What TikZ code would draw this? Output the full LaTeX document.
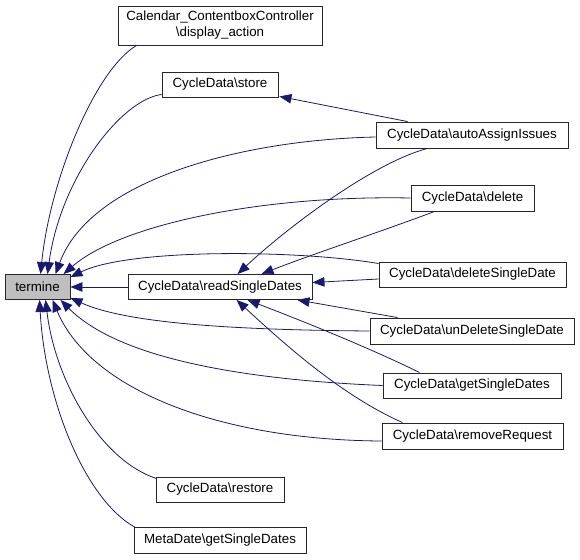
\documentclass[tikz,border=0pt]{standalone}
\usepackage{fontspec}
\setmainfont{Liberation Sans}
\usetikzlibrary{arrows.meta,calc}
\definecolor{edgeblue}{HTML}{191970}
\definecolor{nodegray}{HTML}{BFBFBF}
\begin{document}
\begin{tikzpicture}[x=1pt,y=-1pt,
  box/.style={draw=black!85, line width=0.9pt, fill=white, inner sep=0pt,
    font=\fontsize{13.33}{16}\selectfont, align=center},
  edge/.style={draw=edgeblue, line width=0.8pt, -{Triangle[length=12pt,width=9.5pt]}},
]
\useasboundingbox[fill=white] (0,0) rectangle (580,559);

% nodes
\node[box, fill=nodegray, minimum width=65pt, minimum height=25pt] (termine) at (37.5,287) {termine};
\node[box, minimum width=184pt, minimum height=25pt] (rsd) at (220,287) {CycleData\textbackslash readSingleDates};
\node[box, minimum width=204pt, minimum height=39pt] (disp) at (220,25.5) {Calendar\_ContentboxController\\\textbackslash display\_action};
\node[box, minimum width=116pt, minimum height=25pt] (store) at (220,84.5) {CycleData\textbackslash store};
\node[box, minimum width=192pt, minimum height=26pt] (auto) at (472,135) {CycleData\textbackslash autoAssignIssues};
\node[box, minimum width=123pt, minimum height=26pt] (delete) at (472.5,198) {CycleData\textbackslash delete};
\node[box, minimum width=187pt, minimum height=25pt] (dsd) at (472.5,274.5) {CycleData\textbackslash deleteSingleDate};
\node[box, minimum width=204pt, minimum height=26pt] (udsd) at (472,331) {CycleData\textbackslash unDeleteSingleDate};
\node[box, minimum width=178pt, minimum height=25pt] (gsd) at (472,385.5) {CycleData\textbackslash getSingleDates};
\node[box, minimum width=181pt, minimum height=26pt] (rr) at (472.5,436) {CycleData\textbackslash removeRequest};
\node[box, minimum width=128pt, minimum height=25pt] (restore) at (220,489.5) {CycleData\textbackslash restore};
\node[box, minimum width=172pt, minimum height=26pt] (meta) at (220,540) {MetaDate\textbackslash getSingleDates};

% edges into termine
\draw[edge] ($(disp.south west)+(19,0)$) .. controls (95,70) and (50,180) .. ($(termine.north west)+(36,0)$);
\draw[edge] ($(store.south west)+(0,-3)$) .. controls (120,100) and (60,180) .. ($(termine.north west)+(43,0)$);
\draw[edge] ($(auto.west)+(0,2)$) .. controls (240,140) and (90,180) .. ($(termine.north west)+(51,0)$);
\draw[edge] (delete.west) .. controls (260,195) and (120,225) .. ($(termine.north west)+(59,0)$);
\draw[edge] ($(dsd.north west)+(0,2)$) .. controls (300,250) and (130,248) .. ($(termine.north east)+(0,3)$);
\draw[edge] (rsd) -- (termine);
\draw[edge] (udsd.west) .. controls (250,330) and (130,325) .. ($(termine.south east)+(0,-2)$);
\draw[edge] (gsd.west) .. controls (250,380) and (120,360) .. ($(termine.south west)+(56,0)$);
\draw[edge] ($(rr.west)+(0,5)$) .. controls (220,440) and (90,390) .. ($(termine.south west)+(48,0)$);
\draw[edge] ($(restore.north west)+(1,2)$) .. controls (100,460) and (55,380) .. ($(termine.south west)+(41,0)$);
\draw[edge] ($(meta.north west)+(2,1)$) .. controls (85,500) and (45,400) .. ($(termine.south west)+(35,0)$);

% edges into readSingleDates
\draw[edge] ($(auto.south west)+(52,0)$) .. controls (375,162) and (290,225) .. ($(rsd.north west)+(110,0)$);
\draw[edge] ($(delete.south west)+(24,0)$) .. controls (380,232) and (310,255) .. ($(rsd.north west)+(134,0)$);
\draw[edge] ($(dsd.west)+(0,4.5)$) -- ($(rsd.east)+(0,-4.5)$);
\draw[edge] ($(udsd.north west)+(28,0)$) -- ($(rsd.south east)+(-15,0)$);
\draw[edge] ($(gsd.north west)+(37,0)$) .. controls (370,348) and (300,320) .. ($(rsd.south west)+(120,0)$);
\draw[edge] ($(rr.north west)+(21,0)$) .. controls (340,395) and (280,340) .. ($(rsd.south west)+(109,0)$);

% edge into store
\draw[edge] ($(auto.north west)+(32,0)$) -- ($(store.south east)+(1,-1)$);
\end{tikzpicture}
\end{document}
